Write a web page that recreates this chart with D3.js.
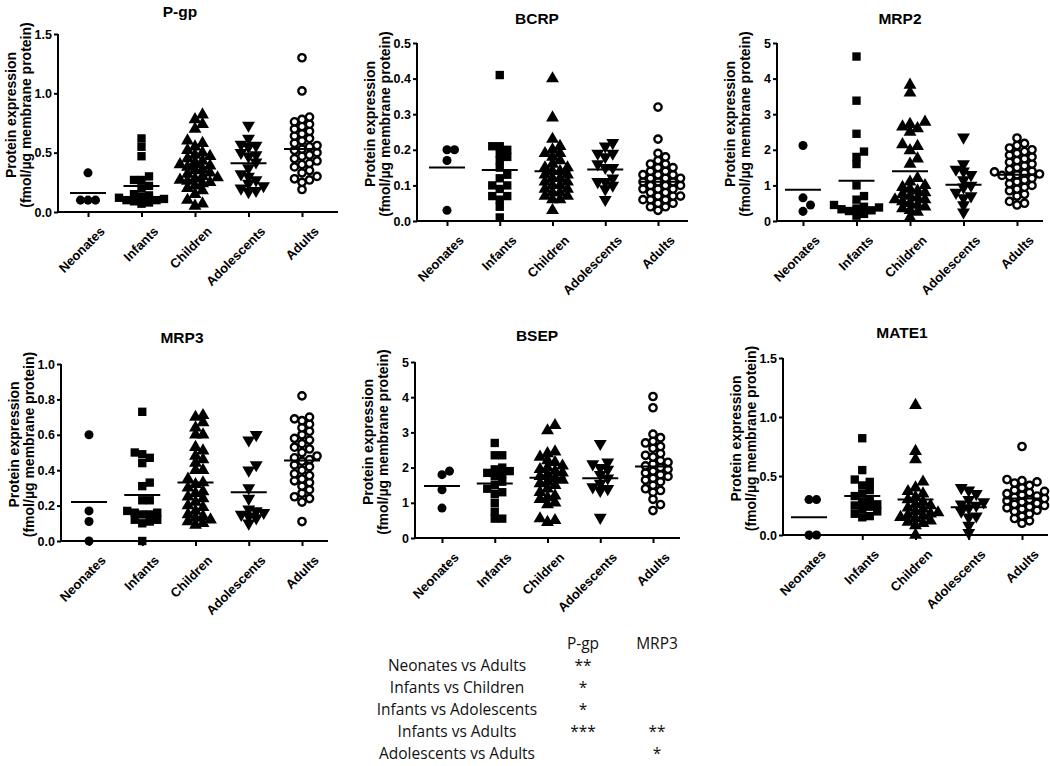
<!DOCTYPE html>
<html>
<head>
<meta charset="utf-8">
<script src="https://cdn.jsdelivr.net/npm/d3@7"></script>
<style>
  body { margin: 0; background: #fff; }
  text { font-family: "Liberation Sans", Arial, sans-serif; }
  .yax .tick text { font-weight: bold; font-size: 12.5px; fill: #000; }
  .xax .tick text { font-weight: bold; font-size: 13px; fill: #000; }
  .title { font-weight: bold; font-size: 15.5px; }
  .ylab { font-weight: bold; font-size: 14px; }
  .tbl { font-family: "Open Sans", sans-serif; font-size: 15.5px; fill: #111; }
</style>
</head>
<body>
<script>
var groups = ['Neonates', 'Infants', 'Children', 'Adolescents', 'Adults'];

// values per group: Neonates, Infants, Children, Adolescents, Adults
var pgp = [
  [0.33, 0.10, 0.10, 0.10],
  [0.62, 0.55, 0.47, 0.30, 0.27, 0.27, 0.22, 0.20, 0.15, 0.14, 0.13, 0.12, 0.11, 0.10, 0.10, 0.09, 0.08, 0.07],
  [0.82, 0.78, 0.74, 0.70, 0.60, 0.58, 0.55, 0.52, 0.50, 0.48, 0.47, 0.45, 0.43, 0.42, 0.40, 0.39, 0.38, 0.36, 0.35, 0.33, 0.32, 0.30, 0.29, 0.28, 0.27, 0.26, 0.25, 0.24, 0.22, 0.20, 0.18, 0.15, 0.10, 0.07, 0.05],
  [0.73, 0.62, 0.57, 0.56, 0.55, 0.50, 0.48, 0.47, 0.42, 0.37, 0.32, 0.30, 0.27, 0.24, 0.22, 0.20, 0.18, 0.17],
  [1.30, 1.02, 0.80, 0.78, 0.76, 0.74, 0.72, 0.70, 0.68, 0.66, 0.64, 0.62, 0.60, 0.58, 0.56, 0.55, 0.53, 0.52, 0.50, 0.48, 0.47, 0.45, 0.43, 0.41, 0.40, 0.38, 0.35, 0.33, 0.30, 0.28, 0.27, 0.25, 0.19]
];
var bcrp = [
  [0.20, 0.20, 0.17, 0.03],
  [0.41, 0.21, 0.21, 0.20, 0.19, 0.18, 0.17, 0.15, 0.13, 0.12, 0.10, 0.10, 0.09, 0.07, 0.07, 0.06, 0.04, 0.01],
  [0.40, 0.29, 0.23, 0.21, 0.20, 0.19, 0.19, 0.18, 0.17, 0.16, 0.15, 0.15, 0.14, 0.14, 0.13, 0.13, 0.12, 0.12, 0.11, 0.11, 0.10, 0.10, 0.09, 0.09, 0.08, 0.08, 0.07, 0.07, 0.06, 0.06, 0.03],
  [0.22, 0.21, 0.19, 0.19, 0.18, 0.16, 0.15, 0.15, 0.12, 0.11, 0.11, 0.10, 0.09, 0.06],
  [0.32, 0.23, 0.19, 0.18, 0.17, 0.16, 0.16, 0.15, 0.15, 0.14, 0.14, 0.13, 0.13, 0.13, 0.12, 0.12, 0.12, 0.11, 0.11, 0.11, 0.10, 0.10, 0.10, 0.09, 0.09, 0.09, 0.08, 0.08, 0.07, 0.07, 0.07, 0.06, 0.06, 0.06, 0.05, 0.05, 0.04, 0.04, 0.03]
];
var mrp2 = [
  [2.12, 0.65, 0.45, 0.27],
  [4.62, 3.38, 2.45, 1.95, 1.80, 1.60, 1.00, 0.70, 0.60, 0.45, 0.40, 0.38, 0.35, 0.33, 0.30, 0.28, 0.20, 0.15],
  [3.82, 3.60, 2.78, 2.72, 2.65, 2.60, 2.50, 2.15, 2.10, 1.98, 1.75, 1.60, 1.20, 1.10, 1.00, 0.95, 0.90, 0.85, 0.80, 0.75, 0.70, 0.65, 0.60, 0.60, 0.55, 0.50, 0.45, 0.40, 0.35, 0.30, 0.25, 0.10],
  [2.35, 1.60, 1.45, 1.40, 1.30, 1.15, 1.00, 0.95, 0.80, 0.70, 0.65, 0.45, 0.25],
  [2.33, 2.18, 2.12, 2.05, 2.00, 1.95, 1.90, 1.85, 1.80, 1.75, 1.70, 1.65, 1.60, 1.55, 1.50, 1.45, 1.40, 1.38, 1.35, 1.32, 1.30, 1.28, 1.25, 1.20, 1.15, 1.10, 1.05, 1.00, 0.95, 0.90, 0.85, 0.75, 0.70, 0.55, 0.50, 0.45]
];
var mrp3 = [
  [0.60, 0.17, 0.11, 0.00],
  [0.73, 0.50, 0.49, 0.47, 0.44, 0.33, 0.31, 0.23, 0.23, 0.17, 0.16, 0.16, 0.15, 0.15, 0.12, 0.12, 0.11, 0.10, 0.00],
  [0.71, 0.70, 0.67, 0.64, 0.60, 0.60, 0.53, 0.51, 0.48, 0.46, 0.44, 0.40, 0.40, 0.35, 0.33, 0.32, 0.30, 0.28, 0.27, 0.25, 0.24, 0.22, 0.20, 0.19, 0.17, 0.15, 0.14, 0.13, 0.12, 0.11, 0.10, 0.09],
  [0.60, 0.57, 0.43, 0.40, 0.30, 0.24, 0.18, 0.17, 0.16, 0.15, 0.14, 0.13, 0.10],
  [0.82, 0.70, 0.69, 0.68, 0.66, 0.64, 0.62, 0.60, 0.58, 0.57, 0.55, 0.53, 0.52, 0.50, 0.48, 0.47, 0.46, 0.45, 0.43, 0.42, 0.40, 0.38, 0.37, 0.35, 0.34, 0.33, 0.31, 0.29, 0.27, 0.25, 0.24, 0.22, 0.11]
];
var bsep = [
  [1.90, 1.80, 1.37, 0.85],
  [2.70, 2.35, 2.35, 2.00, 1.95, 1.90, 1.85, 1.80, 1.75, 1.60, 1.50, 1.40, 1.30, 1.25, 1.00, 0.75, 0.55, 0.55],
  [3.20, 3.05, 2.45, 2.40, 2.30, 2.20, 2.15, 2.05, 2.00, 1.95, 1.90, 1.85, 1.80, 1.75, 1.70, 1.65, 1.60, 1.55, 1.50, 1.40, 1.30, 1.20, 1.15, 1.10, 1.00, 0.95, 0.55, 0.50, 0.45],
  [2.68, 2.15, 2.10, 2.00, 1.95, 1.80, 1.70, 1.55, 1.45, 1.40, 1.35, 0.58],
  [4.02, 3.70, 2.95, 2.85, 2.75, 2.70, 2.60, 2.55, 2.40, 2.35, 2.30, 2.20, 2.15, 2.10, 2.05, 2.00, 1.95, 1.90, 1.85, 1.80, 1.75, 1.70, 1.65, 1.60, 1.50, 1.40, 1.35, 1.30, 1.10, 0.95, 0.78]
];
var mate1 = [
  [0.30, 0.30, 0.00, 0.00],
  [0.82, 0.55, 0.47, 0.45, 0.42, 0.38, 0.35, 0.33, 0.30, 0.28, 0.26, 0.25, 0.24, 0.22, 0.20, 0.18, 0.16, 0.15],
  [1.10, 0.71, 0.64, 0.45, 0.40, 0.37, 0.35, 0.32, 0.30, 0.28, 0.26, 0.25, 0.23, 0.22, 0.20, 0.19, 0.18, 0.17, 0.16, 0.15, 0.14, 0.12, 0.11, 0.10, 0.08, 0.00],
  [0.40, 0.38, 0.35, 0.30, 0.28, 0.26, 0.25, 0.23, 0.20, 0.16, 0.15, 0.08, 0.02],
  [0.75, 0.47, 0.46, 0.45, 0.44, 0.42, 0.40, 0.38, 0.37, 0.36, 0.35, 0.34, 0.33, 0.32, 0.31, 0.30, 0.29, 0.28, 0.27, 0.26, 0.25, 0.24, 0.23, 0.22, 0.21, 0.20, 0.18, 0.16, 0.14, 0.12, 0.10]
];

// group means (horizontal lines)
var pgp_mean = [0.16, 0.22, 0.38, 0.41, 0.53];
var bcrp_mean = [0.15, 0.143, 0.14, 0.145, 0.11];
var mrp2_mean = [0.88, 1.13, 1.40, 1.02, 1.30];
var mrp3_mean = [0.22, 0.26, 0.33, 0.275, 0.455];
var bsep_mean = [1.48, 1.55, 1.71, 1.70, 2.03];
var mate1_mean = [0.15, 0.33, 0.30, 0.235, 0.31];

// y axis tick values
var pgp_ticks = [0, 0.5, 1.0, 1.5];
var bcrp_ticks = [0, 0.1, 0.2, 0.3, 0.4, 0.5];
var mrp2_ticks = [0, 1, 2, 3, 4, 5];
var mrp3_ticks = [0, 0.2, 0.4, 0.6, 0.8, 1.0];
var bsep_ticks = [0, 1, 2, 3, 4, 5];
var mate1_ticks = [0, 0.5, 1.0, 1.5];

// significance table
var cmp_rows = ['Neonates vs Adults', 'Infants vs Children', 'Infants vs Adolescents', 'Infants vs Adults', 'Adolescents vs Adults'];
var cmp_cols = ['P-gp', 'MRP3'];
var cmp_pgp = ['**', '*', '*', '***', ''];
var cmp_mrp3 = ['', '', '', '**', '*'];

// spread overlapping points sideways (scatter dot plot style)
function swarm(vals, y, step, vstep) {
    var placed = [];
    var order = vals.slice().sort(function (a, b) { return a - b; });
    order.forEach(function (v) {
        var py = y(v);
        for (var k = 0; k < 60; k++) {
            var dx = (k % 2 ? 1 : -1) * Math.ceil(k / 2) * step;
            var hit = placed.some(function (q) {
                return Math.abs(q.dx - dx) < step - 0.5 && Math.abs(q.py - py) < vstep;
            });
            if (!hit) { placed.push({ v: v, py: py, dx: dx }); break; }
        }
    });
    return placed;
}

function plot_it() {
    var width = 1050, height = 766;
    var svg = d3.select('body').append('svg').attr('width', width).attr('height', height);

    var panels = [
        { name: 'P-gp', data: pgp, mean: pgp_mean, ticks: pgp_ticks, fmt: '.1f', ax: 58, top: 34, bot: 212, end: 338, c0: 88, c1: 302, tx: 180, ty: 17 },
        { name: 'BCRP', data: bcrp, mean: bcrp_mean, ticks: bcrp_ticks, fmt: '.1f', ax: 417, top: 43, bot: 221, end: 688, c0: 447, c1: 658, tx: 537, ty: 24 },
        { name: 'MRP2', data: mrp2, mean: mrp2_mean, ticks: mrp2_ticks, fmt: 'd', ax: 777, top: 43, bot: 221, end: 1043, c0: 803, c1: 1017, tx: 900, ty: 24 },
        { name: 'MRP3', data: mrp3, mean: mrp3_mean, ticks: mrp3_ticks, fmt: '.1f', ax: 61, top: 364, bot: 541, end: 328, c0: 89, c1: 302, tx: 182, ty: 343 },
        { name: 'BSEP', data: bsep, mean: bsep_mean, ticks: bsep_ticks, fmt: 'd', ax: 415, top: 362, bot: 538, end: 680, c0: 442, c1: 653, tx: 537, ty: 341 },
        { name: 'MATE1', data: mate1, mean: mate1_mean, ticks: mate1_ticks, fmt: '.1f', ax: 783, top: 358, bot: 535, end: 1048, c0: 809, c1: 1022, tx: 902, ty: 338 }
    ];

    var shapes = [
        { type: d3.symbolCircle, size: 64, fill: '#000', rot: 0 },
        { type: d3.symbolSquare, size: 70, fill: '#000', rot: 0 },
        { type: d3.symbolTriangle, size: 72, fill: '#000', rot: 0 },
        { type: d3.symbolTriangle, size: 72, fill: '#000', rot: 180 },
        { type: d3.symbolCircle, size: 42, fill: '#fff', rot: 0 }
    ];

    panels.forEach(function (p) {
        var g = svg.append('g');
        var ymax = p.ticks[p.ticks.length - 1];
        var y = d3.scaleLinear().domain([0, ymax]).range([p.bot, p.top]);
        var x = d3.scalePoint().domain(groups).range([p.c0, p.c1]);

        // points
        p.data.forEach(function (vals, gi) {
            var sh = shapes[gi];
            var pts = swarm(vals, y, 7.5, 7);
            g.selectAll('.pt' + gi)
                .data(pts)
                .enter().append('path')
                .attr('d', d3.symbol().type(sh.type).size(sh.size))
                .attr('transform', function (d) {
                    return 'translate(' + (x(groups[gi]) + d.dx) + ',' + d.py + ') rotate(' + sh.rot + ')';
                })
                .attr('fill', sh.fill)
                .attr('stroke', '#000')
                .attr('stroke-width', gi == 4 ? 2.4 : 0);
        });

        // mean lines
        g.selectAll('.mean')
            .data(p.mean)
            .enter().append('line')
            .attr('x1', function (d, i) { return x(groups[i]) - 18; })
            .attr('x2', function (d, i) { return x(groups[i]) + 18; })
            .attr('y1', function (d) { return y(d); })
            .attr('y2', function (d) { return y(d); })
            .attr('stroke', '#000')
            .attr('stroke-width', 2);

        // y axis
        var yAxis = g.append('g')
            .attr('class', 'yax')
            .attr('transform', 'translate(' + p.ax + ',0)')
            .call(d3.axisLeft(y).tickValues(p.ticks).tickFormat(d3.format(p.fmt)).tickSize(4).tickPadding(2));
        yAxis.select('.domain').attr('stroke-width', 2).attr('d', 'M0,' + p.top + 'V' + p.bot);
        yAxis.selectAll('.tick line').attr('stroke-width', 2);

        // x axis
        var xAxis = g.append('g')
            .attr('class', 'xax')
            .attr('transform', 'translate(0,' + p.bot + ')')
            .call(d3.axisBottom(x).tickSize(5).tickSizeOuter(0));
        xAxis.select('.domain').attr('stroke-width', 2).attr('d', 'M' + p.ax + ',0H' + p.end);
        xAxis.selectAll('.tick line').attr('stroke-width', 2);
        xAxis.selectAll('.tick text')
            .attr('text-anchor', 'end')
            .attr('transform', 'translate(5,8) rotate(-45)')
            .attr('dy', '0.7em');

        // title
        g.append('text')
            .attr('class', 'title')
            .attr('x', p.tx).attr('y', p.ty)
            .attr('text-anchor', 'middle')
            .text(p.name);

        // y label
        var mid = (p.top + p.bot) / 2 - 8;
        var lab = g.append('text')
            .attr('class', 'ylab')
            .attr('text-anchor', 'middle')
            .attr('transform', 'translate(' + (p.ax - 42) + ',' + mid + ') rotate(-90)');
        lab.append('tspan').attr('x', 0).attr('dy', 0).text('Protein expression');
        lab.append('tspan').attr('x', 0).attr('dy', 15).text('(fmol/µg membrane protein)');
    });

    // comparison table
    var tb = svg.append('g');
    var rowY = d3.scalePoint().domain(cmp_rows).range([666, 754]);
    var colX = d3.scalePoint().domain(cmp_cols).range([583, 657]);
    tb.selectAll('.hdr')
        .data(cmp_cols)
        .enter().append('text')
        .attr('class', 'tbl')
        .attr('x', function (d) { return colX(d); })
        .attr('y', 644)
        .attr('dy', '0.35em')
        .attr('text-anchor', 'middle')
        .text(function (d) { return d; });
    tb.selectAll('.rl')
        .data(cmp_rows)
        .enter().append('text')
        .attr('class', 'tbl')
        .attr('x', 457)
        .attr('y', function (d) { return rowY(d); })
        .attr('dy', '0.3em')
        .attr('text-anchor', 'middle')
        .text(function (d) { return d; });
    [cmp_pgp, cmp_mrp3].forEach(function (col, ci) {
        tb.selectAll('.st' + ci)
            .data(col)
            .enter().append('text')
            .attr('class', 'tbl')
            .attr('x', colX(cmp_cols[ci]))
            .attr('y', function (d, i) { return rowY(cmp_rows[i]); })
            .attr('dy', '0.3em')
            .attr('text-anchor', 'middle')
            .text(function (d) { return d; });
    });
}

plot_it();
</script>
</body>
</html>
